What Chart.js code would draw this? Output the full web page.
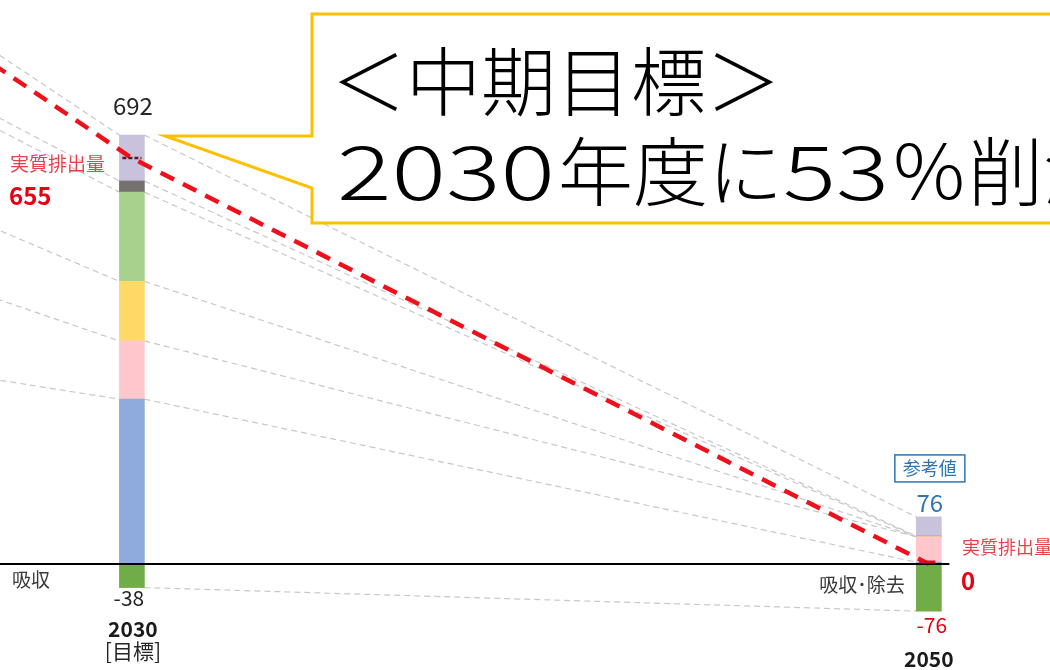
<!DOCTYPE html>
<html><head><meta charset="utf-8">
<script src="https://cdn.jsdelivr.net/npm/chart.js@4.4.1/dist/chart.umd.min.js"></script>
<style>html,body{margin:0;padding:0;background:#fff}#wrap{width:1050px;height:670px;position:relative}</style>
</head><body><div id="wrap"><canvas id="c"></canvas></div>
<script>
// ---- data ----
const years = [2013, 2030, 2050];
const blueSeg     = [432, 266, 3];
const pinkSeg     = [288, 94, 41];
const yellowSeg   = [183, 96, 0];
const greenSeg    = [241, 144, 0];
const graySeg     = [26, 18, 1];
const lavenderSeg = [224, 74, 31];
const absorption  = [0, -38, -76];
const netEmission = [1394, 655, 0];
const yearLabels  = ['', '2030', '2050'];
const subLabels   = ['', '[目標]', ''];

const segs = [blueSeg, pinkSeg, yellowSeg, greenSeg, graySeg, lavenderSeg];
const segColors = ['#8faadc', '#ffc7cb', '#ffd966', '#a9d18e', '#767171', '#c8c2dc'];
const BW = 25;
const FONT = '"Noto Sans CJK JP", "Noto Sans", sans-serif';
const RED_TXT = '#e8404a';
const RED = '#e60012';
const BLUE_TXT = '#2e75b6';

function cumTops(i){ let s = 0; return segs.map(a => (s += a[i])); }
function total(i){ return segs.reduce((s,a)=>s+a[i],0); }

function txt(ctx, s, x, y, font, color, align){
  ctx.font = font; ctx.fillStyle = color; ctx.textAlign = align || 'center';
  ctx.textBaseline = 'alphabetic'; ctx.fillText(s, x, y);
}

const connectors = {
  id: 'connectors',
  beforeDatasetsDraw(chart){
    const {ctx, scales:{x, y}} = chart;
    ctx.save();
    ctx.strokeStyle = '#c8c8c8'; ctx.lineWidth = 1.2; ctx.setLineDash([6,4]);
    for (let i = 0; i < years.length - 1; i++){
      const a = cumTops(i), b = cumTops(i+1);
      const x1 = x.getPixelForValue(years[i]) + BW/2;
      const x2 = x.getPixelForValue(years[i+1]) - BW/2;
      const pairs = a.map((v,k)=>[v, b[k]]);
      if (absorption[i] && absorption[i+1]) pairs.push([absorption[i], absorption[i+1]]);
      pairs.forEach(([v1, v2]) => {
        ctx.beginPath();
        ctx.moveTo(x1, y.getPixelForValue(v1));
        ctx.lineTo(x2, y.getPixelForValue(v2));
        ctx.stroke();
      });
    }
    ctx.restore();
  },
  afterDatasetsDraw(chart){
    const {ctx, scales:{x, y}} = chart;
    ctx.save();
    // zero line
    ctx.strokeStyle = '#000'; ctx.lineWidth = 2; ctx.setLineDash([]);
    ctx.beginPath();
    ctx.moveTo(chart.chartArea.left, y.getPixelForValue(0));
    ctx.lineTo(x.getPixelForValue(2050) + BW/2 + 8, y.getPixelForValue(0));
    ctx.stroke();
    // net emission markers
    const c30 = x.getPixelForValue(2030), c50 = x.getPixelForValue(2050);
    ctx.strokeStyle = '#5a1a1e'; ctx.lineWidth = 2.5; ctx.setLineDash([4,2]);
    ctx.beginPath(); ctx.moveTo(c30 - BW/2 + 3, y.getPixelForValue(netEmission[1]));
    ctx.lineTo(c30 + BW/2 - 3, y.getPixelForValue(netEmission[1])); ctx.stroke();
    ctx.strokeStyle = '#d0101a'; ctx.lineWidth = 3; ctx.setLineDash([]);
    ctx.beginPath(); ctx.moveTo(c50 - BW/2 + 3, y.getPixelForValue(netEmission[2]) - 2);
    ctx.lineTo(c50 + BW/2 - 6, y.getPixelForValue(netEmission[2]) - 2); ctx.stroke();

    // labels 2030
    const b30 = y.getPixelForValue(absorption[1]);
    txt(ctx, String(total(1)), c30 + 1, y.getPixelForValue(total(1)) - 20, '24px ' + FONT, '#262626');
    txt(ctx, String(absorption[1]), c30 - 3, b30 + 18, '21px ' + FONT, '#262626');
    txt(ctx, yearLabels[1], c30 + 1, b30 + 49, 'bold 21px ' + FONT, '#1a1a1a');
    txt(ctx, subLabels[1], c30 + 1, b30 + 71, '21px ' + FONT, '#262626');
    const n30 = y.getPixelForValue(netEmission[1]);
    txt(ctx, '実質排出量', 10, n30 + 13, '19px ' + FONT, RED_TXT, 'left');
    txt(ctx, String(netEmission[1]), 9, n30 + 47, 'bold 24px ' + FONT, RED, 'left');
    txt(ctx, '吸収', 12, y.getPixelForValue(0) + 23, '19px ' + FONT, '#3a3a3a', 'left');

    // labels 2050
    const b50 = y.getPixelForValue(absorption[2]);
    const t50 = y.getPixelForValue(total(2));
    ctx.strokeStyle = BLUE_TXT; ctx.lineWidth = 1.5; ctx.setLineDash([]);
    ctx.strokeRect(c50 - 34, t50 - 62, 70, 27);
    txt(ctx, '参考値', c50 + 1, t50 - 42, '18px ' + FONT, BLUE_TXT);
    txt(ctx, String(total(2)), c50 + 1, t50 - 5, '24px ' + FONT, BLUE_TXT);
    txt(ctx, String(absorption[2]), c50 + 3, b50 + 22, '21px ' + FONT, RED);
    txt(ctx, yearLabels[2], c50, b50 + 56, 'bold 21px ' + FONT, '#1a1a1a');
    const z = y.getPixelForValue(0);
    txt(ctx, '実質排出量', 962, z - 10, '18px ' + FONT, RED_TXT, 'left');
    txt(ctx, String(netEmission[2]), 961, z + 26, 'bold 24px ' + FONT, RED, 'left');
    txt(ctx, '吸収･除去', c50 - 24, z + 28, '19px ' + FONT, '#3a3a3a', 'right');
    ctx.restore();
  },
  afterDraw(chart){
    const {ctx} = chart;
    ctx.save();
    ctx.beginPath();
    ctx.moveTo(312, 14); ctx.lineTo(1070, 14); ctx.lineTo(1070, 223); ctx.lineTo(312, 223);
    ctx.lineTo(312, 188); ctx.lineTo(165, 136); ctx.lineTo(312, 136); ctx.closePath();
    ctx.fillStyle = '#fff'; ctx.fill();
    ctx.strokeStyle = '#ffc000'; ctx.lineWidth = 3; ctx.lineJoin = 'miter'; ctx.stroke();
    ctx.fillStyle = '#000'; ctx.textAlign = 'left'; ctx.textBaseline = 'alphabetic';
    ctx.font = '300 75px ' + FONT;
    ctx.fillText('＜中期目標＞', 331, 110);
    const fit = (s, x0, w) => {
      const nat = ctx.measureText(s).width;
      ctx.save(); ctx.translate(x0, 200); ctx.scale(w / nat, 1); ctx.fillText(s, 0, 0); ctx.restore();
    };
    fit('2030', 337, 218);
    fit('年度に', 558, 225);
    fit('53', 783, 106);
    fit('％', 889, 80);
    fit('削減', 968, 150);
    ctx.restore();
  }
};

const datasets = segs.map((arr, k) => ({
  type: 'bar',
  data: years.map((yr, i) => ({x: yr, y: arr[i]})),
  backgroundColor: segColors[k], borderWidth: 0, barThickness: BW
}));
datasets.push({
  type: 'bar',
  data: years.map((yr, i) => ({x: yr, y: absorption[i]})),
  backgroundColor: '#70ad47', borderWidth: 0, barThickness: BW
});
datasets.push({
  type: 'line', yAxisID: 'y2', order: -1,
  data: years.map((yr, i) => ({x: yr, y: netEmission[i]})),
  borderColor: '#f0101c', borderWidth: 4.5, borderDash: [15, 10],
  pointRadius: 0, fill: false, tension: 0
});

new Chart(document.getElementById('c'), {
  type: 'bar',
  data: { datasets },
  options: {
    responsive: true, maintainAspectRatio: false, animation: false,
    layout: { padding: 0 },
    plugins: { legend: { display: false }, tooltip: { enabled: false } },
    scales: {
      x: { type: 'linear', min: 2026.69, max: 2053.04, display: false, stacked: true, offset: false },
      y: { min: -171, max: 910, display: false, stacked: true },
      y2: { min: -171, max: 910, display: false, stacked: false }
    }
  },
  plugins: [connectors]
});
</script></body></html>
